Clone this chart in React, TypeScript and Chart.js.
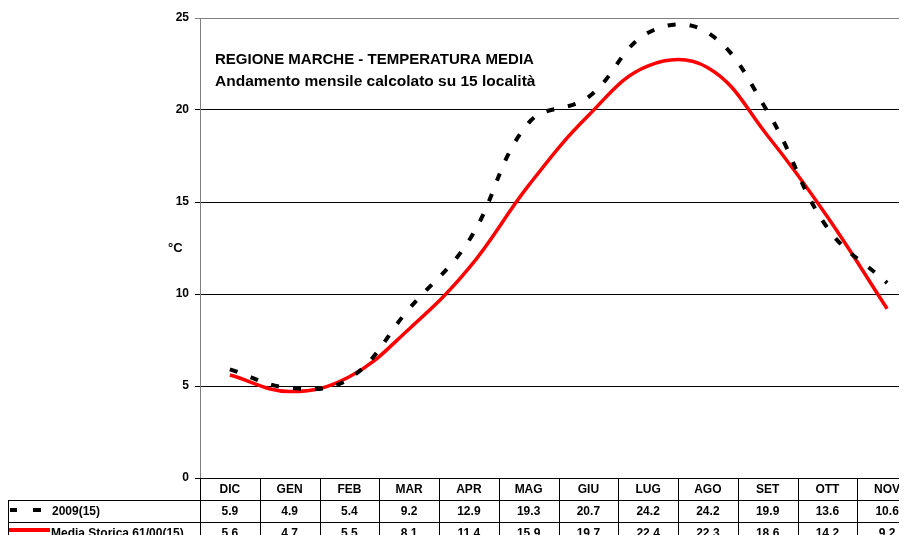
import React, { useEffect, useRef } from "react";
import { Chart, registerables } from "chart.js";

Chart.register(...registerables);

const months = ["DIC", "GEN", "FEB", "MAR", "APR", "MAG", "GIU", "LUG", "AGO", "SET", "OTT", "NOV"];
const series2009 = [5.9, 4.9, 5.4, 9.2, 12.9, 19.3, 20.7, 24.2, 24.2, 19.9, 13.6, 10.6];
const seriesMedia = [5.6, 4.7, 5.5, 8.1, 11.4, 15.9, 19.7, 22.4, 22.3, 18.6, 14.2, 9.2];
const label2009 = "2009(15)";
const labelMedia = "Media Storica 61/00(15)";
const titleLine1 = "REGIONE MARCHE - TEMPERATURA MEDIA";
const titleLine2 = "Andamento mensile calcolato su 15 località";
const yUnit = "°C";
const yTicks = [0, 5, 10, 15, 20, 25];

const FONT = '"Liberation Sans", Arial, sans-serif';

const tablePlugin = {
  id: "tablePlugin",
  afterDraw(chart: any) {
    const { ctx, chartArea } = chart;
    const { left, right, bottom } = chartArea;
    const colW = (right - left) / months.length;
    ctx.save();
    // titles
    ctx.fillStyle = "#000";
    ctx.textAlign = "left";
    ctx.textBaseline = "alphabetic";
    ctx.font = `bold 15px ${FONT}`;
    ctx.fillText(titleLine1, 207, 56);
    ctx.font = `bold 15.5px ${FONT}`;
    ctx.fillText(titleLine2, 207, 78);
    // unit
    ctx.font = `bold 13px ${FONT}`;
    ctx.fillText(yUnit, 160, 244);

    // table grid
    const rh = 22;
    const r0 = bottom;
    ctx.strokeStyle = "#000";
    ctx.lineWidth = 1;
    ctx.beginPath();
    for (let i = 1; i <= 3; i++) {
      const y = Math.round(r0 + rh * i) + 0.5;
      ctx.moveTo(0, y);
      ctx.lineTo(right, y);
    }
    for (let i = 0; i <= months.length; i++) {
      const x = Math.round(left + colW * i) + 0.5;
      ctx.moveTo(x, r0);
      ctx.lineTo(x, r0 + rh * 3);
    }
    ctx.moveTo(0.5, r0 + rh);
    ctx.lineTo(0.5, r0 + rh * 3);
    ctx.stroke();

    // cell texts
    ctx.font = `bold 12px ${FONT}`;
    ctx.textAlign = "center";
    ctx.textBaseline = "middle";
    const rows = [months, series2009.map((v) => v.toFixed(1)), seriesMedia.map((v) => v.toFixed(1))];
    rows.forEach((row, r) => {
      row.forEach((t, i) => {
        ctx.fillText(String(t), left + colW * (i + 0.5), r0 + rh * r + rh / 2 + 1);
      });
    });

    // legend column
    ctx.fillStyle = "#000";
    ctx.fillRect(2, 500, 7, 4);
    ctx.fillRect(25, 500, 8, 4);
    ctx.fillStyle = "#ff0000";
    ctx.fillRect(1, 520, 41, 4);
    ctx.fillStyle = "#000";
    ctx.textAlign = "left";
    ctx.fillText(label2009, 44, r0 + rh * 1.5 + 1);
    ctx.fillText(labelMedia, 43, r0 + rh * 2.5 + 1);
    ctx.restore();
  },
};

export default function App() {
  const ref = useRef<HTMLCanvasElement>(null);
  useEffect(() => {
    if (!ref.current) return;
    const chart = new Chart(ref.current, {
      type: "line",
      data: {
        labels: months,
        datasets: [
          {
            label: label2009,
            data: series2009,
            borderColor: "#000",
            borderWidth: 4,
            borderDash: [8, 14],
            borderCapStyle: "butt",
            tension: 0.4,
            pointRadius: 0,
            fill: false,
          },
          {
            label: labelMedia,
            data: seriesMedia,
            borderColor: "#ff0000",
            borderWidth: 3.5,
            tension: 0.4,
            pointRadius: 0,
            fill: false,
          },
        ],
      },
      options: {
        animation: false,
        responsive: false,
        maintainAspectRatio: false,
        layout: { padding: { top: 10, bottom: 75, left: 0, right: 6 } },
        plugins: { legend: { display: false }, tooltip: { enabled: false } },
        scales: {
          x: { type: "category", display: false, offset: true },
          y: {
            min: 0,
            max: 25,
            afterBuildTicks: (s: any) => {
              s.ticks = yTicks.map((v) => ({ value: v }));
            },
            afterFit: (s: any) => {
              s.width = 192;
              s.paddingTop = 0;
              s.paddingBottom = 0;
            },
            ticks: {
              color: "#000",
              padding: 6,
              font: { family: FONT, weight: "bold", size: 12 },
            },
            grid: {
              color: (c: any) => (c.tick && c.tick.value === 25 ? "#808080" : "#000"),
              tickLength: 5,
              drawTicks: true,
            },
            border: { color: "#808080", width: 1 },
          },
        },
      },
      plugins: [tablePlugin],
    } as any);
    return () => chart.destroy();
  }, []);
  return (
    <div style={{ width: 899, height: 527, overflow: "hidden" }}>
      <canvas ref={ref} width={915} height={545} style={{ width: 915, height: 545, display: "block" }} />
    </div>
  );
}
